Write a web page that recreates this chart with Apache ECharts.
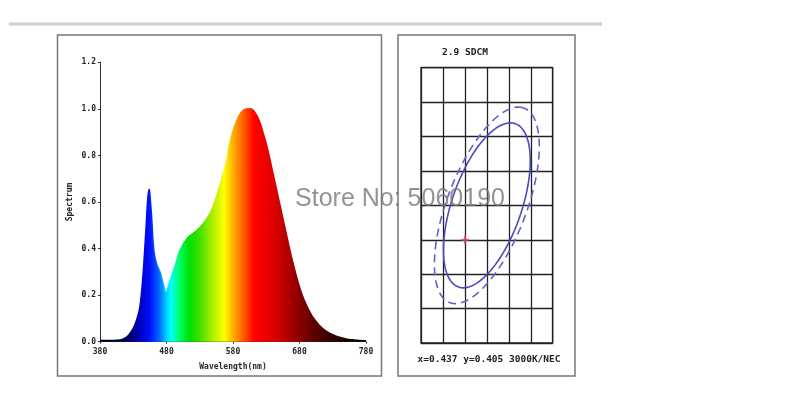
<!DOCTYPE html>
<html>
<head>
<meta charset="utf-8">
<title>Spectrum</title>
<script src="https://cdn.jsdelivr.net/npm/echarts/dist/echarts.min.js"></script>
<style>
  html, body { margin: 0; padding: 0; background: #fff; }
  #chart { width: 800px; height: 400px; }
</style>
</head>
<body>
<div id="chart"></div>
<script>
// spectrum curve (wavelength nm -> relative intensity)
var wavelengths = [380,390,400,410,420,425,430,435,440,445,449,452,454,456,458,461,465,470,475,479,
  485,490,495,500,510,520,530,540,550,560,570,575,580,585,590,595,600,605,610,615,
  620,625,630,635,640,645,650,655,660,665,670,675,680,685,690,695,700,710,720,730,
  740,750,760,770,780];
var intensity = [0.005,0.005,0.005,0.007,0.02,0.035,0.057,0.093,0.15,0.30,0.48,0.62,0.655,0.60,0.52,0.39,0.335,0.30,0.25,0.212,
  0.26,0.30,0.345,0.39,0.44,0.465,0.49,0.525,0.58,0.67,0.77,0.85,0.905,0.945,0.975,0.993,0.999,1.0,0.995,0.975,
  0.945,0.9,0.85,0.79,0.725,0.66,0.595,0.53,0.465,0.40,0.34,0.285,0.235,0.193,0.16,0.13,0.105,0.07,0.045,0.03,
  0.019,0.012,0.008,0.005,0.004];

// MacAdam ellipses: centre (x, y) and two conjugate half axes (ux, uy), (vx, vy)
var ellipseInner = [0.436, 0.404, 0.00258, 0.00475, 0.0030, -0.00066];
var ellipseOuter = [0.436, 0.404, 0.0031, 0.0057, 0.00364, -0.00035];
// measured point
var targetPoint = [0.434, 0.402];

// texts
var sdcmTitle = '2.9 SDCM';
var pointText = 'x=0.437 y=0.405 3000K/NEC';
var watermark = 'Store No: 5060190';

var chart = echarts.init(document.getElementById('chart'));

var spectrumData = [];
for (var i = 0; i < wavelengths.length; i++) {
  spectrumData.push([wavelengths[i], intensity[i]]);
}

// rainbow fill along the x direction, offset = (nm - 380) / 400
function rainbow() {
  var stops = [
    [380, '#00000a'], [420, '#000050'], [440, '#0000c0'], [455, '#0010ff'],
    [470, '#0070ff'], [480, '#00d0ff'], [487, '#00ffff'], [500, '#00ff60'],
    [515, '#00e000'], [530, '#40e000'], [550, '#b0f000'], [567, '#ffff00'],
    [580, '#ffb000'], [595, '#ff6000'], [612, '#ff0000'], [640, '#e00000'],
    [670, '#a00000'], [700, '#600000'], [740, '#200000'], [780, '#000000']
  ];
  return new echarts.graphic.LinearGradient(0, 0, 1, 0, stops.map(function (s) {
    return { offset: (s[0] - 380) / 400, color: s[1] };
  }));
}

// ellipse drawn through the axes of the second grid
function ellipseRenderer(stroke, dash) {
  return function (params, api) {
    var cx = api.value(0), cy = api.value(1);
    var ux = api.value(2), uy = api.value(3), vx = api.value(4), vy = api.value(5);
    var pts = [];
    for (var k = 0; k < 90; k++) {
      var t = k / 90 * Math.PI * 2;
      pts.push(api.coord([cx + ux * Math.cos(t) + vx * Math.sin(t), cy + uy * Math.cos(t) + vy * Math.sin(t)]));
    }
    return {
      type: 'polygon',
      shape: { points: pts },
      style: { fill: 'none', stroke: stroke, lineWidth: 1.6, lineDash: dash }
    };
  };
}

var monoFont = 'DejaVu Sans Mono';
var labelStyle = { fontFamily: monoFont, fontWeight: 'bold', fontSize: 8, color: '#222' };

var option = {
  animation: false,
  backgroundColor: '#fff',
  grid: [
    { left: 100, top: 62.3, width: 266, height: 279.4 },
    { left: 421, top: 67.7, width: 131.7, height: 275.3, show: true, borderColor: '#222', borderWidth: 1.3 }
  ],
  xAxis: [{
    gridIndex: 0, type: 'value', min: 380, max: 780, interval: 100,
    name: 'Wavelength(nm)', nameLocation: 'middle', nameGap: 21,
    nameTextStyle: labelStyle,
    axisLine: { lineStyle: { color: '#333', width: 1 } },
    axisTick: { length: 2, lineStyle: { color: '#333' } },
    axisLabel: Object.assign({ margin: 6 }, labelStyle),
    splitLine: { show: false }
  }, {
    gridIndex: 1, type: 'value', min: 0.430, max: 0.442, interval: 0.002,
    axisLine: { show: false }, axisTick: { show: false }, axisLabel: { show: false },
    splitLine: { lineStyle: { color: '#222', width: 1.3 } }
  }],
  yAxis: [{
    gridIndex: 0, type: 'value', min: 0, max: 1.2, interval: 0.2,
    name: 'Spectrum', nameLocation: 'middle', nameGap: 26, nameRotate: 90,
    nameTextStyle: labelStyle,
    axisLine: { show: true, lineStyle: { color: '#333', width: 1 } },
    axisTick: { show: true, length: 2, lineStyle: { color: '#333' } },
    axisLabel: Object.assign({ margin: 4, formatter: function (v) { return v.toFixed(1); } }, labelStyle),
    splitLine: { show: false }
  }, {
    gridIndex: 1, type: 'value', min: 0.396, max: 0.412, interval: 0.002,
    axisLine: { show: false }, axisTick: { show: false }, axisLabel: { show: false },
    splitLine: { lineStyle: { color: '#222', width: 1.3 } }
  }],
  series: [{
    type: 'line',
    xAxisIndex: 0, yAxisIndex: 0,
    data: spectrumData,
    smooth: 0.4,
    showSymbol: false,
    lineStyle: { width: 1.5, color: rainbow() },
    areaStyle: { color: rainbow(), opacity: 1 }
  }, {
    type: 'custom',
    xAxisIndex: 1, yAxisIndex: 1,
    renderItem: ellipseRenderer('#6262c8', [8, 5]),
    encode: { x: 0, y: 1 },
    data: [ellipseOuter]
  }, {
    type: 'custom',
    xAxisIndex: 1, yAxisIndex: 1,
    renderItem: ellipseRenderer('#4a4ac0', null),
    encode: { x: 0, y: 1 },
    data: [ellipseInner]
  }, {
    type: 'scatter',
    xAxisIndex: 1, yAxisIndex: 1,
    symbol: 'path://M3,0H5V3H8V5H5V8H3V5H0V3H3Z',
    symbolSize: 8,
    itemStyle: { color: '#e24a5c' },
    z: 5,
    data: [targetPoint]
  }],
  graphic: [
    // top rule and the two panel frames
    { type: 'rect', shape: { x: 9, y: 22.5, width: 593, height: 3 }, style: { fill: '#cfcfcf' }, z: -1 },
    { type: 'rect', shape: { x: 57.5, y: 35, width: 324, height: 341 }, style: { fill: 'none', stroke: '#777', lineWidth: 1.5 }, z: -1 },
    { type: 'rect', shape: { x: 398, y: 35, width: 177, height: 341 }, style: { fill: 'none', stroke: '#777', lineWidth: 1.5 }, z: -1 },
    { type: 'text', x: 465, y: 53, style: { text: sdcmTitle, fill: '#222', font: 'bold 9.5px "' + monoFont + '"', textAlign: 'center', textVerticalAlign: 'middle' } },
    { type: 'text', x: 489, y: 360, style: { text: pointText, fill: '#222', font: 'bold 9.5px "' + monoFont + '"', textAlign: 'center', textVerticalAlign: 'middle' } },
    { type: 'text', x: 400, y: 199, z: 100, style: { text: watermark, fill: 'rgba(120,120,120,0.8)', font: '25px "Liberation Sans"', textAlign: 'center', textVerticalAlign: 'middle' } }
  ]
};

chart.setOption(option);
</script>
</body>
</html>
